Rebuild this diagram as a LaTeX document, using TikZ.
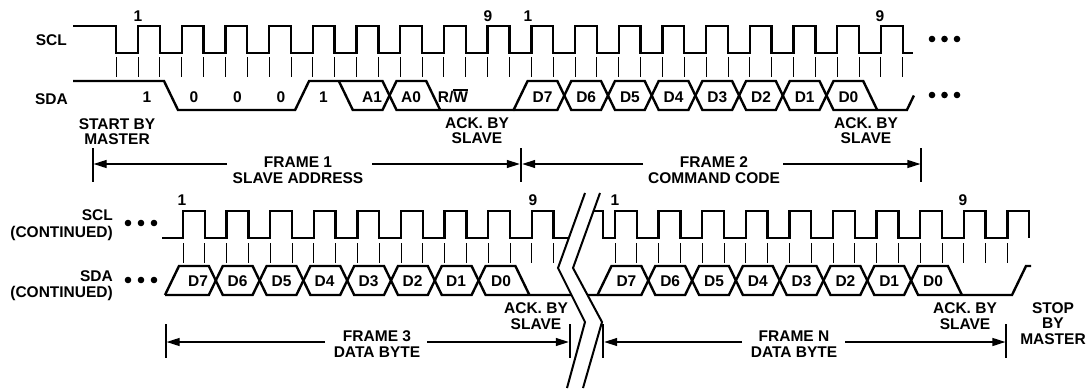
\documentclass[tikz,border=0pt]{standalone}
\usepackage{fontspec}
\setmainfont{Liberation Sans}
\usetikzlibrary{arrows.meta}
\newcommand{\ovlW}{\leavevmode\vbox{\hrule height 1.4pt\kern 1.2pt\hbox{W}}}
\begin{document}
\begin{tikzpicture}[x=1pt,y=-1pt,
  sig/.style={line width=2.4pt, line join=miter, line cap=butt},
  tck/.style={line width=0.9pt},
  lbl/.style={inner sep=0pt, font=\fontsize{15.5}{15.5}\selectfont\bfseries, align=center},
  lb/.style={lbl, anchor=base, yshift=-5.5pt},
  dimarrow/.style={line width=1.2pt, -{Triangle[length=13pt,width=8pt]}},
  ftick/.style={line width=1.2pt},
  brk/.style={line width=2pt},
  dotmark/.style={circle, fill=black, inner sep=0pt, minimum size=6.6pt}]
\useasboundingbox (0,0) rectangle (1089,388);

% ---------------- top row ----------------
% SCL
\draw[sig] (73,26) -- (116.15,26) -- (116.15,53)
  \foreach \k in {0,...,17}{ -- ({138+43.7*\k},53) -- ({138+43.7*\k},26) -- ({159.85+43.7*\k},26) -- ({159.85+43.7*\k},53)} -- (913,53);
\foreach \j in {0,...,36} \draw[tck] ({116.15+21.85*\j},57) -- ++(0,20);
% SDA
\draw[sig] (73,81) -- (164,81) -- (178,110) -- (295.1,110) -- (309.1,81) -- (382.5,81) -- (396.5,110)
  -- (513.6,110) -- (527.6,81) -- (557.3,81) -- (571.3,110) -- (601,110) -- (615,81) -- (644.7,81)
  -- (658.7,110) -- (688.4,110) -- (702.4,81) -- (732.1,81) -- (746.1,110) -- (775.8,110) -- (789.8,81)
  -- (819.5,81) -- (833.5,110) -- (906.9,110) -- (913.9,95.5);
\draw[sig] (338.8,81) -- (352.8,110) -- (382.5,110) -- (396.5,81) -- (426.2,81) -- (440.2,110);
\draw[sig] (513.6,110) -- (557.3,110) -- (571.3,81) -- (601,81) -- (615,110) -- (644.7,110) -- (658.7,81)
  -- (688.4,81) -- (702.4,110) -- (732.1,110) -- (746.1,81) -- (775.8,81) -- (789.8,110) -- (819.5,110)
  -- (833.5,81) -- (863.2,81) -- (877.2,110);

\node[lbl, anchor=east] (sclT) at (67,40) {SCL};
\node[lbl, anchor=east] (sdaT) at (68,99) {SDA};
\node[lb] (c1a) at (138,16) {1};
\node[lb] (c9a) at (488,16) {9};
\node[lb] (c1b) at (528,16) {1};
\node[lb] (c9b) at (880,16) {9};
\node[lb] (ta) at (147,97) {1};
\node[lb] (tb) at (194,97) {0};
\node[lb] (tc) at (237.5,97) {0};
\node[lb] (td) at (281,97) {0};
\node[lb] (te) at (323.5,97) {1};
\node[lb] (tf) at (372,97) {A1};
\node[lb] (tg) at (411,97) {A0};
\node[lb] (th) at (453,97) {R/\ovlW};
\node[lb] (d7a) at (542.5,97) {D7};
\node[lb] (d6a) at (586.2,97) {D6};
\node[lb] (d5a) at (629.9,97) {D5};
\node[lb] (d4a) at (673.6,97) {D4};
\node[lb] (d3a) at (717.3,97) {D3};
\node[lb] (d2a) at (761,97) {D2};
\node[lb] (d1a) at (804.7,97) {D1};
\node[lb] (d0a) at (848.4,97) {D0};

\node[dotmark] (p1) at (932,39) {};
\node[dotmark] (p2) at (944.5,39) {};
\node[dotmark] (p3) at (957,39) {};
\node[dotmark] (p4) at (932,95) {};
\node[dotmark] (p5) at (944.5,95) {};
\node[dotmark] (p6) at (957,95) {};

\node[lbl] (start) at (117,131.5) {START BY\\MASTER};
\node[lbl] (ack1) at (477,130.5) {ACK. BY\\SLAVE};
\node[lbl] (ack2) at (866,130.5) {ACK. BY\\SLAVE};
\node[lbl, font=\fontsize{15.5}{16.5}\selectfont\bfseries] (fr1) at (298,170) {FRAME 1\\SLAVE ADDRESS};
\node[lbl, font=\fontsize{15.5}{16.5}\selectfont\bfseries] (fr2) at (714,170) {FRAME 2\\COMMAND CODE};

\coordinate (k1) at (93,164);
\coordinate (k2) at (521,164);
\coordinate (k3) at (921,164);
\foreach \c in {k1,k2,k3} \draw[ftick] ([yshift=16pt]\c) -- ([yshift=-18pt]\c);
\coordinate (a1l) at (227,164);
\coordinate (a1r) at (372,164);
\coordinate (a2l) at (643,164);
\coordinate (a2r) at (783,164);
\draw[dimarrow] (a1l) -- ([xshift=0.6pt]k1);
\draw[dimarrow] (a1r) -- ([xshift=-1.2pt]k2);
\draw[dimarrow] (a2l) -- ([xshift=1.2pt]k2);
\draw[dimarrow] (a2r) -- ([xshift=-0.6pt]k3);

% ---------------- bottom row ----------------
\draw[sig] (162,238)
  \foreach \k in {0,...,8}{ -- ({183+43.6*\k},238) -- ({183+43.6*\k},211) -- ({204.8+43.6*\k},211) -- ({204.8+43.6*\k},238)} -- (568,238);
\foreach \j in {0,...,17} \draw[tck] ({183+21.8*\j},243) -- ++(0,20);
\draw[sig] (593.5,211) -- (603,211) -- (603,238)
  \foreach \k in {0,...,9}{ -- ({615+43.6*\k},238) -- ({615+43.6*\k},211) -- ({636.8+43.6*\k},211) -- ({636.8+43.6*\k},238)};
\foreach \j in {0,...,18} \draw[tck] ({615+21.8*\j},243) -- ++(0,20);

\draw[sig] (165,295) -- (179,266) -- (208.8,266) -- (222.8,295) -- (252.6,295) -- (266.6,266) -- (296.4,266)
  -- (310.4,295) -- (340.2,295) -- (354.2,266) -- (384,266) -- (398,295) -- (427.8,295) -- (441.8,266)
  -- (471.6,266) -- (485.6,295) -- (572,295);
\draw[sig] (165,295) -- (208.8,295) -- (222.8,266) -- (252.6,266) -- (266.6,295) -- (296.4,295) -- (310.4,266)
  -- (340.2,266) -- (354.2,295) -- (384,295) -- (398,266) -- (427.8,266) -- (441.8,295) -- (471.6,295)
  -- (485.6,266) -- (515.4,266) -- (529.4,295);
\draw[sig] (587.5,295) -- (597.5,295) -- (611.5,266) -- (641.3,266) -- (655.3,295) -- (685.1,295) -- (699.1,266)
  -- (728.9,266) -- (742.9,295) -- (772.7,295) -- (786.7,266) -- (816.5,266) -- (830.5,295) -- (860.3,295)
  -- (874.3,266) -- (904.1,266) -- (918.1,295) -- (1012,295) -- (1026,266) -- (1031,266);
\draw[sig] (597.5,295) -- (641.3,295) -- (655.3,266) -- (685.1,266) -- (699.1,295) -- (728.9,295) -- (742.9,266)
  -- (772.7,266) -- (786.7,295) -- (816.5,295) -- (830.5,266) -- (860.3,266) -- (874.3,295) -- (904.1,295)
  -- (918.1,266) -- (947.9,266) -- (961.9,295);

% break
\fill[white] (585,193) -- (558,268) -- (585,322) -- (567,388) -- (583,388) -- (602,322) -- (573,268) -- (600,193) -- cycle;
\draw[brk] (585,193) -- (558,268) -- (585,322) -- (567,388);
\draw[brk] (600,193) -- (573,268) -- (602,322) -- (583,388);

\node[lbl, anchor=east, align=right, font=\fontsize{15.5}{17}\selectfont\bfseries] (sclB) at (113,225.5) {SCL\\(CONTINUED)};
\node[lbl, anchor=east, align=right, font=\fontsize{15.5}{16}\selectfont\bfseries] (sdaB) at (113,286) {SDA\\(CONTINUED)};
\node[lb] (c1c) at (182,200) {1};
\node[lb] (c9c) at (533,200) {9};
\node[lb] (c1d) at (615,200) {1};
\node[lb] (c9d) at (963,200) {9};

\node[lb] (d7b) at (198,281) {D7};
\node[lb] (d6b) at (237.5,281) {D6};
\node[lb] (d5b) at (281.5,281) {D5};
\node[lb] (d4b) at (324.5,281) {D4};
\node[lb] (d3b) at (368.5,281) {D3};
\node[lb] (d2b) at (412.5,281) {D2};
\node[lb] (d1b) at (456,281) {D1};
\node[lb] (d0b) at (501,281) {D0};
\node[lb] (d7c) at (626.4,281) {D7};
\node[lb] (d6c) at (670.2,281) {D6};
\node[lb] (d5c) at (714,281) {D5};
\node[lb] (d4c) at (757.8,281) {D4};
\node[lb] (d3c) at (801.6,281) {D3};
\node[lb] (d2c) at (845.4,281) {D2};
\node[lb] (d1c) at (889.2,281) {D1};
\node[lb] (d0c) at (933,281) {D0};

\node[dotmark] (q1) at (128,223) {};
\node[dotmark] (q2) at (141,223) {};
\node[dotmark] (q3) at (154,223) {};
\node[dotmark] (q4) at (128,280) {};
\node[dotmark] (q5) at (141,280) {};
\node[dotmark] (q6) at (154,280) {};

\node[lbl] (ack3) at (536,316) {ACK. BY\\SLAVE};
\node[lbl] (ack4) at (965,316) {ACK. BY\\SLAVE};
\node[lbl] (stop) at (1053,323.5) {STOP\\BY\\MASTER};
\node[lbl, font=\fontsize{15.5}{16.5}\selectfont\bfseries] (fr3) at (377,344) {FRAME 3\\DATA BYTE};
\node[lbl, font=\fontsize{15.5}{16.5}\selectfont\bfseries] (frn) at (794,344) {FRAME N\\DATA BYTE};

\coordinate (k4) at (166,342);
\coordinate (k5) at (570,342);
\coordinate (k6) at (603,342);
\coordinate (k7) at (1006,342);
\foreach \c in {k4,k5,k6,k7} \draw[ftick] ([yshift=18pt]\c) -- ([yshift=-16pt]\c);
\coordinate (a3l) at (325,342);
\coordinate (a3r) at (427,342);
\coordinate (anl) at (742,342);
\coordinate (anr) at (845,342);
\draw[dimarrow] (a3l) -- ([xshift=0.6pt]k4);
\draw[dimarrow] (a3r) -- ([xshift=-1.2pt]k5);
\draw[dimarrow] (anl) -- ([xshift=1.2pt]k6);
\draw[dimarrow] (anr) -- ([xshift=-0.6pt]k7);
\end{tikzpicture}
\end{document}
